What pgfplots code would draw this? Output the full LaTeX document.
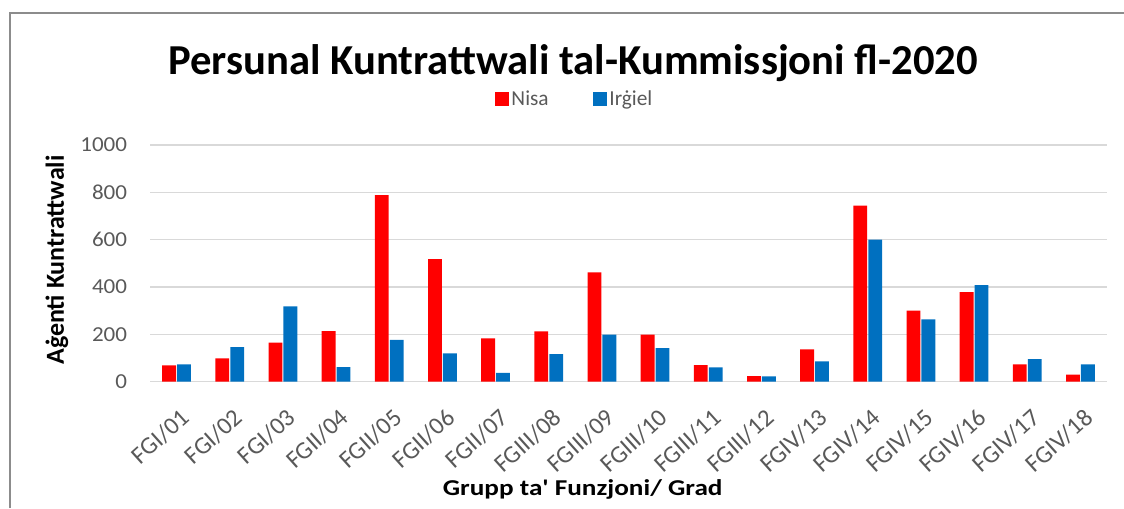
\documentclass[border=0pt]{standalone}
\usepackage{pgfplots}
\pgfplotsset{compat=1.18}
\usepackage{fontspec}
\setmainfont{Carlito}
\definecolor{nisa}{HTML}{FF0000}
\definecolor{irgiel}{HTML}{0070C0}
\definecolor{gridc}{HTML}{D9D9D9}
\definecolor{tickc}{HTML}{595959}
\definecolor{framec}{HTML}{8C8C8C}
\begin{document}
\begin{tikzpicture}
\useasboundingbox (0pt,0pt) rectangle (843pt,-381pt);
\draw[framec, line width=0.9pt] (7.5pt,-381pt) -- (7.5pt,-9.75pt) -- (843pt,-9.75pt);
\begin{axis}[
  at={(112.5pt,-286.3pt)}, anchor=south west,
  scale only axis, width=717.75pt, height=177.5pt,
  xmin=-0.5, xmax=17.5, ymin=0, ymax=1000,
  axis line style={draw=none},
  xtick=data,
  xticklabels={FGI/01,FGI/02,FGI/03,FGII/04,FGII/05,FGII/06,FGII/07,FGIII/08,FGIII/09,FGIII/10,FGIII/11,FGIII/12,FGIV/13,FGIV/14,FGIV/15,FGIV/16,FGIV/17,FGIV/18},
  ytick={0,200,400,600,800,1000},
  major tick length=0pt,
  ymajorgrids, major grid style={gridc, line width=1.1pt},
  tick label style={font=\fontsize{16}{18}\selectfont, text=tickc},
  /pgf/number format/assume math mode=true,
  /pgf/number format/1000 sep={},
  xticklabel style={xshift=2pt, yshift=-19pt, rotate=42, anchor=north east, inner sep=0pt, font=\fontsize{18.5}{20}\selectfont},
  yticklabel style={anchor=east, inner sep=0pt, xshift=-17pt, xscale=1.08},
  legend style={at={(0.444,1.194)}, anchor=center, draw=none, fill=none,
    legend columns=2, font=\fontsize{16}{18}\selectfont, text=tickc,
    /tikz/every even column/.append style={column sep=31pt},
    inner sep=0pt},
  legend image code/.code={\fill[#1] (0pt,-5.25pt) rectangle (10.5pt,5.25pt);},
  clip=false,
]
\addplot[ybar, bar width=0.26, bar shift=-0.14, fill=nisa, draw=none] coordinates {
(0,69) (1,99) (2,165) (3,214) (4,789) (5,518) (6,183) (7,213) (8,462)
(9,199) (10,70) (11,24) (12,137) (13,744) (14,300) (15,379) (16,73) (17,30)};
\addlegendentry{Nisa}
\addplot[ybar, bar width=0.26, bar shift=0.14, fill=irgiel, draw=none] coordinates {
(0,73) (1,146) (2,318) (3,62) (4,177) (5,120) (6,37) (7,117) (8,199)
(9,142) (10,61) (11,23) (12,86) (13,600) (14,263) (15,408) (16,96) (17,73)};
\addlegendentry{Irġiel}
\end{axis}
\node[anchor=base, font=\fontsize{32}{34}\selectfont\bfseries, inner sep=0pt] at (429.75pt,-55.5pt) {Persunal Kuntrattwali tal-Kummissjoni fl-2020};
\node[anchor=base, xscale=1.2, font=\fontsize{17}{19}\selectfont\bfseries, inner sep=0pt] at (437pt,-371.25pt) {Grupp ta\textquotesingle{} Funzjoni/ Grad};
\node[anchor=center, rotate=90, font=\fontsize{19.5}{21}\selectfont\bfseries, inner sep=0pt] at (42.75pt,-195pt) {Aġenti Kuntrattwali};
\end{tikzpicture}
\end{document}
